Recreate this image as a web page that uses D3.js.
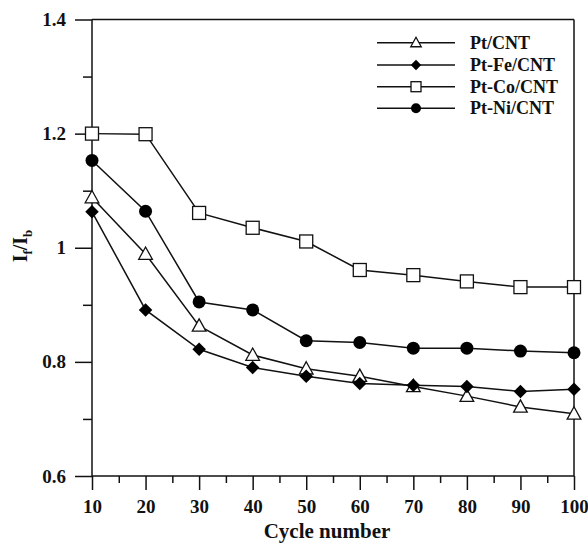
<!DOCTYPE html>
<html><head><meta charset="utf-8">
<script src="https://cdn.jsdelivr.net/npm/d3@7"></script>
<style>
body{margin:0;background:#fff;}
svg{display:block;}
text{font-family:"Liberation Serif","Times New Roman",serif;font-weight:bold;fill:#111;}
</style></head>
<body>
<svg id="chart" width="588" height="543"></svg>
<script>
const cycles = [10,20,30,40,50,60,70,80,90,100];
const ptCNT   = [1.088,0.989,0.863,0.812,0.788,0.775,0.757,0.740,0.721,0.709];
const ptFeCNT = [1.063,0.891,0.822,0.790,0.775,0.762,0.759,0.757,0.748,0.752];
const ptCoCNT = [1.200,1.199,1.061,1.035,1.011,0.961,0.952,0.941,0.931,0.931];
const ptNiCNT = [1.153,1.064,0.905,0.891,0.837,0.834,0.824,0.824,0.819,0.816];
const seriesNames = ["Pt/CNT","Pt-Fe/CNT","Pt-Co/CNT","Pt-Ni/CNT"];
const xTicks = [10,20,30,40,50,60,70,80,90,100];
const yTicks = [0.6,0.8,1,1.2,1.4];

const svg = d3.select("#chart");
const L=92, R=574, T=19.5, B=476;
const x = d3.scaleLinear().domain([10,100]).range([L,R]);
const y = d3.scaleLinear().domain([0.6,1.4]).range([B,T]);

// frame
svg.append("line").attr("x1",L).attr("x2",R).attr("y1",T).attr("y2",T).attr("stroke","#111").attr("stroke-width",1.5);
svg.append("line").attr("x1",R).attr("x2",R).attr("y1",T).attr("y2",B).attr("stroke","#111").attr("stroke-width",1.5);

// y axis
const yAxis = d3.axisLeft(y).tickValues(yTicks).tickSize(17).tickPadding(9).tickFormat(d=>d===1?"1":d3.format(".1f")(d));
const gy = svg.append("g").attr("transform",`translate(${L},0)`).call(yAxis);
const yMinor = d3.axisLeft(y).tickValues([0.7,0.9,1.1,1.3]).tickSize(9).tickFormat("");
svg.append("g").attr("transform",`translate(${L},0)`).call(yMinor).select(".domain").remove();

// x axis
const xAxis = d3.axisBottom(x).tickValues(xTicks).tickSize(14).tickPadding(10).tickFormat(d3.format("d"));
const gx = svg.append("g").attr("transform",`translate(0,${B})`).call(xAxis);
const xMinor = d3.axisBottom(x).tickValues(d3.range(15,100,10)).tickSize(7).tickFormat("");
svg.append("g").attr("transform",`translate(0,${B})`).call(xMinor).select(".domain").remove();

svg.selectAll(".domain").attr("stroke","#111").attr("stroke-width",1.5);
svg.selectAll(".tick line").attr("stroke","#111").attr("stroke-width",1.5);
svg.selectAll(".tick text").style("font-family",'"Liberation Serif",serif').style("font-weight","bold").style("font-size","19px").attr("fill","#111");
gy.selectAll(".domain").attr("d",`M0,${B}V${T}`);
gx.selectAll(".domain").attr("d",`M${L},0H${R}`);

// axis titles
svg.append("text").attr("x",327).attr("y",538).attr("text-anchor","middle").style("font-size","21px").text("Cycle number");
const yl = svg.append("text").attr("transform","translate(27,246) rotate(-90)").attr("text-anchor","middle").style("font-size","20px");
yl.append("tspan").text("I");
yl.append("tspan").attr("dy",5).style("font-size","13px").text("f");
yl.append("tspan").attr("dy",-5).text("/I");
yl.append("tspan").attr("dy",5).style("font-size","13px").text("b");

// series
const allSeries = [ptCNT, ptFeCNT, ptCoCNT, ptNiCNT];
const line = d3.line().x((d,i)=>x(cycles[i])).y(d=>y(d));

function drawMarker(g, type, cx, cy, s){
  if(type===0){
    const h=s*0.9, w=s*1.05;
    g.append("path").attr("d",`M${cx},${cy-h*0.6}L${cx+w/2},${cy+h*0.45}L${cx-w/2},${cy+h*0.45}Z`).attr("fill","#fff").attr("stroke","#111").attr("stroke-width",1.3);
  } else if(type===1){
    const r=s*0.52;
    g.append("path").attr("d",`M${cx},${cy-r}L${cx+r},${cy}L${cx},${cy+r}L${cx-r},${cy}Z`).attr("fill","#000");
  } else if(type===2){
    g.append("rect").attr("x",cx-s/2).attr("y",cy-s/2).attr("width",s).attr("height",s).attr("fill","#fff").attr("stroke","#111").attr("stroke-width",1.3);
  } else {
    g.append("circle").attr("cx",cx).attr("cy",cy).attr("r",s/2).attr("fill","#000");
  }
}

allSeries.forEach((vals,k)=>{
  svg.append("path").datum(vals).attr("d",line).attr("fill","none").attr("stroke","#111").attr("stroke-width",1.5);
});
allSeries.forEach((vals,k)=>{
  const g = svg.append("g");
  vals.forEach((v,i)=>drawMarker(g,k,x(cycles[i]),y(v),13));
});

// legend
const legY = [42.7,65,86.7,108.3];
seriesNames.forEach((n,k)=>{
  const g = svg.append("g");
  g.append("line").attr("x1",377).attr("x2",455).attr("y1",legY[k]).attr("y2",legY[k]).attr("stroke","#111").attr("stroke-width",1.5);
  drawMarker(g,k,416,legY[k],10);
  g.append("text").attr("x",470).attr("y",legY[k]+6).style("font-size","18px").text(n);
});
</script>
</body></html>
